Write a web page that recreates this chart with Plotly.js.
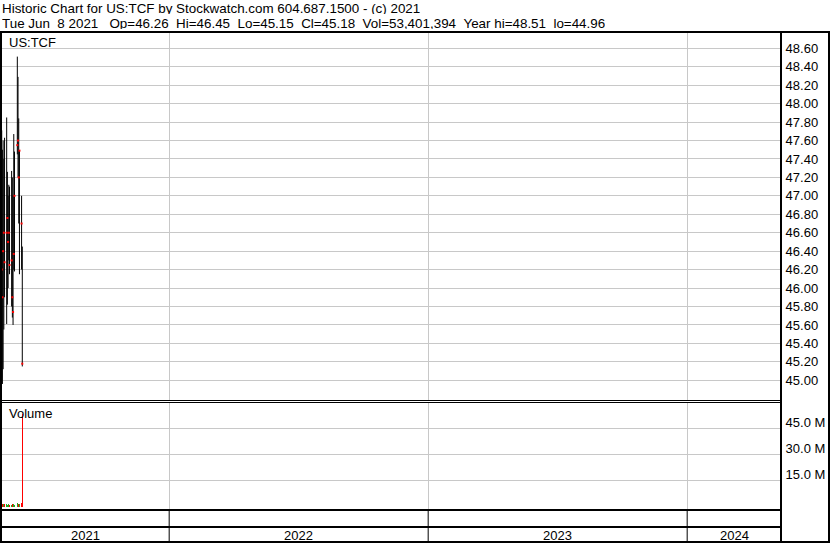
<!DOCTYPE html>
<html>
<head>
<meta charset="utf-8">
<script src="https://cdn.plot.ly/plotly-3.0.1.min.js"></script>
<style>html,body{margin:0;padding:0;background:#fff;}#chart{width:830px;height:543px;}</style>
</head>
<body>
<div id="chart"></div>
<script>
// ---- data ----
const dates = ['2021-05-10','2021-05-11','2021-05-12','2021-05-13','2021-05-14','2021-05-17','2021-05-18','2021-05-19','2021-05-20','2021-05-21','2021-05-24','2021-05-25','2021-05-26','2021-05-27','2021-05-28','2021-06-01','2021-06-02','2021-06-03','2021-06-04','2021-06-07','2021-06-08'];
const highs  = [47.71,47.50,47.60,47.40,47.63,47.85,47.26,47.00,47.12,47.10,47.27,47.20,47.00,47.67,47.48,48.51,48.29,47.84,47.49,47.00,46.45];
const lows   = [45.03,44.96,45.12,45.55,45.90,45.61,45.82,46.00,46.30,46.15,45.80,45.68,45.60,46.20,46.18,47.45,47.20,46.70,46.15,46.20,45.15];
const closes = [46.20,45.90,46.40,46.60,46.28,46.60,46.76,46.50,46.60,46.25,46.30,45.90,45.74,46.37,47.00,47.55,47.60,47.20,47.49,46.70,45.18];
const volumes = [1600000,1200000,1400000,1100000,1300000,1500000,1000000,900000,1200000,1100000,800000,1300000,1200000,1500000,1000000,1800000,1400000,1200000,1300000,2200000,53401394];
const priceTicks = [45.00,45.20,45.40,45.60,45.80,46.00,46.20,46.40,46.60,46.80,47.00,47.20,47.40,47.60,47.80,48.00,48.20,48.40,48.60];
const volTicks = [15000000,30000000,45000000];
const volTickText = ['15.0 M','30.0 M','45.0 M'];
const yearStarts = ['2022-01-01','2023-01-01','2024-01-01'];
const yearLabels = ['2021','2022','2023','2024'];
const headerLine1 = 'Historic Chart for US:TCF by Stockwatch.com 604.687.1500 - (c) 2021';
const headerLine2 = 'Tue Jun  8 2021   Op=46.26  Hi=46.45  Lo=45.15  Cl=45.18  Vol=53,401,394  Year hi=48.51  lo=44.96';
const symbol = 'US:TCF';

// ---- layout geometry ----
const W = 830, H = 543, ML = 1, MR = 49, MT = 33, MB = 33;
const PW = W - ML - MR, PH = H - MT - MB;
const px = v => (v - ML) / PW;
const py = v => (H - MB - v) / PH;
const xRange = ['2021-05-09', '2024-05-12 05:00'];
const FONT = 'Liberation Sans, Arial, sans-serif';

// HL segments
const hx = [], hy = [];
dates.forEach((d, i) => { hx.push(d, d, null); hy.push(highs[i], lows[i], null); });
const volColors = closes.map((c, i) => (i > 0 && c >= closes[i - 1]) ? '#22aa22' : '#ff0000');

const traces = [
  {type: 'scatter', mode: 'lines', x: hx, y: hy, xaxis: 'x', yaxis: 'y',
   line: {color: '#000', width: 1}, hoverinfo: 'skip', connectgaps: false},
  {type: 'scatter', mode: 'markers', x: dates, y: closes, xaxis: 'x', yaxis: 'y',
   marker: {color: '#ff0000', size: 2, symbol: 'square', line: {width: 0}}},
  {type: 'bar', x: dates, y: volumes, xaxis: 'x2', yaxis: 'y2',
   marker: {color: volColors, line: {width: 0}}, width: 86400000 * 1.3}
];

// year label positions (midpoints)
const t0 = new Date(xRange[0].replace(' ', 'T') + 'Z').getTime();
const t1 = new Date(xRange[1].replace(' ', 'T') + 'Z').getTime();
const bounds = [t0].concat(yearStarts.map(s => new Date(s + 'T00:00:00Z').getTime())).concat([t1]);
const annotations = [];
yearLabels.forEach((lab, i) => {
  const mid = new Date((bounds[i] + bounds[i + 1]) / 2).toISOString().slice(0, 19).replace('T', ' ');
  annotations.push({x: mid, xref: 'x2', y: py(535), yref: 'paper', text: lab, showarrow: false,
    xanchor: 'center', yanchor: 'middle', font: {family: FONT, size: 13, color: '#000'}});
});
const nb = s => s.replace(/ /g, '\u00a0');
annotations.push({x: px(1), y: py(7.8), xref: 'paper', yref: 'paper', text: nb(headerLine1), showarrow: false,
  xanchor: 'left', yanchor: 'middle', height: 12, borderpad: 0, valign: 'middle',
  font: {family: FONT, size: 13.4, color: '#000'}});
annotations.push({x: px(1), y: py(23.2), xref: 'paper', yref: 'paper', text: nb(headerLine2), showarrow: false,
  xanchor: 'left', yanchor: 'middle', height: 12, borderpad: 0, valign: 'middle',
  font: {family: FONT, size: 13.4, color: '#000'}});
annotations.push({x: px(7), y: py(42), xref: 'paper', yref: 'paper', text: symbol, showarrow: false,
  xanchor: 'left', yanchor: 'middle', font: {family: FONT, size: 13, color: '#000'}});
annotations.push({x: px(7), y: py(413), xref: 'paper', yref: 'paper', text: 'Volume', showarrow: false,
  xanchor: 'left', yanchor: 'middle', font: {family: FONT, size: 13, color: '#000'}});

const line = (x0, y0, x1, y1, w, c) => ({type: 'line', xref: 'paper', yref: 'paper',
  x0: px(x0), y0: py(y0), x1: px(x1), y1: py(y1), line: {color: c || '#000', width: w}, layer: 'above'});
const shapes = [
  line(0, 32, 830, 32, 2),
  line(1, 32, 1, 542, 2),
  line(781, 32, 781, 542, 2),
  line(829, 32, 829, 542, 2),
  line(0, 542, 830, 542, 2),
  line(0, 400.5, 781, 400.5, 1),
  line(0, 402.5, 781, 402.5, 1),
  line(0, 510, 781, 510, 2),
  line(0, 527, 781, 527, 2)
];
yearStarts.forEach(s => {
  shapes.push({type: 'line', xref: 'x2', yref: 'paper', x0: s, x1: s, y0: py(510), y1: py(542),
    line: {color: '#000', width: 1}, layer: 'above'});
});

const priceDomTop = 33, priceDomBot = 400, volDomTop = 403, volDomBot = 510;
const layout = {
  width: W, height: H,
  margin: {l: ML, r: MR, t: MT, b: MB, pad: 0},
  paper_bgcolor: '#fff', plot_bgcolor: '#fff',
  showlegend: false,
  font: {family: FONT, size: 13, color: '#000'},
  xaxis: {range: xRange, type: 'date', domain: [0, 1], anchor: 'y', matches: 'x2',
    tickvals: yearStarts, showticklabels: false, showgrid: true, gridcolor: '#c8c8c8', gridwidth: 1,
    zeroline: false, showline: false, ticks: ''},
  xaxis2: {range: xRange, type: 'date', domain: [0, 1], anchor: 'y2',
    tickvals: yearStarts, showticklabels: false, showgrid: true, gridcolor: '#c8c8c8', gridwidth: 1,
    zeroline: false, showline: false, ticks: ''},
  yaxis: {domain: [py(priceDomBot), py(priceDomTop)], range: [44.786, 48.766], side: 'right', anchor: 'x',
    tickvals: priceTicks, ticktext: priceTicks.map(v => v.toFixed(2)), showgrid: true, gridcolor: '#c8c8c8',
    zeroline: false, showline: false, ticks: 'outside', ticklen: 1, tickcolor: 'rgba(0,0,0,0)',
    tickfont: {family: FONT, size: 13, color: '#000'}},
  yaxis2: {domain: [py(volDomBot), py(volDomTop)], range: [-2020000, 59710000], side: 'right', anchor: 'x2',
    tickvals: volTicks, ticktext: volTickText, showgrid: true, gridcolor: '#c8c8c8',
    zeroline: false, showline: false, ticks: 'outside', ticklen: 1, tickcolor: 'rgba(0,0,0,0)',
    ticklabelshift: -6, tickfont: {family: FONT, size: 13, color: '#000'}},
  annotations: annotations,
  shapes: shapes,
  bargap: 0
};
Plotly.newPlot('chart', traces, layout, {staticPlot: true, displayModeBar: false});
</script>
</body>
</html>
